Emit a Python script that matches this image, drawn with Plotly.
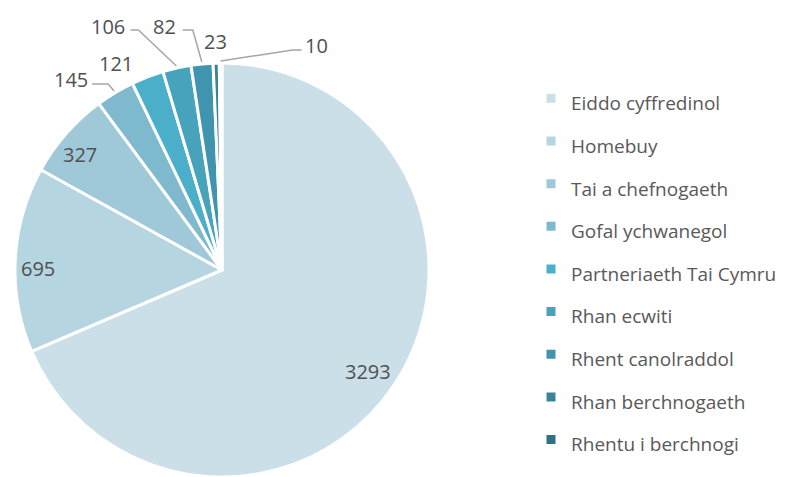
import math
import plotly.graph_objects as go

categories = ["Eiddo cyffredinol", "Homebuy", "Tai a chefnogaeth", "Gofal ychwanegol",
              "Partneriaeth Tai Cymru", "Rhan ecwiti", "Rhent canolraddol",
              "Rhan berchnogaeth", "Rhentu i berchnogi"]
values = [3293, 695, 327, 145, 121, 106, 82, 23, 10]
colors = ["#CADFE8", "#B5D5E1", "#9FC9D8", "#7EB9CD", "#4BAFC9",
          "#47A2BC", "#3F94AE", "#3A8499", "#2F7185"]

# ---- layout / style constants (screen pixels) ----
W, H = 787, 477
PAGE_MARGIN = 8  # default body margin of the html page
PIE_CX, PIE_CY, PIE_R = 222, 270, 207
# label placement style:
#   ("in", radius factor, pixel nudge, None)
#   ("out", None, label offset from slice edge, leader elbow offsets)
label_style = [
    ("in", 0.86, (-3, 3), None),
    ("in", 0.89, (0, 8), None),
    ("in", 0.87, (-7, 3), None),
    ("out", None, (-43, -11), [(-6, -7), (-22, -7)]),
    ("out", None, (-31, -12), []),
    ("out", None, (-68, -40), [(-38, -36), (-46, -36)]),
    ("out", None, (-37, -35), [(-9, -32), (-19, -32)]),
    ("out", None, (-1, -20), []),
    ("out", None, (96, -16), [(72, -11), (81, -11)]),
]

def px(x):
    return (x - PAGE_MARGIN) / W

def py(y):
    return 1 - (y - PAGE_MARGIN) / H

legend_labels = [f"<span style='font-size:19px'>{c}</span>" for c in categories]

fig = go.Figure(go.Pie(
    labels=legend_labels,
    values=values,
    sort=False,
    direction="clockwise",
    rotation=0,
    marker=dict(colors=colors, line=dict(color="white", width=3)),
    textinfo="none",
    domain=dict(x=[px(PIE_CX - PIE_R), px(PIE_CX + PIE_R)],
                y=[py(PIE_CY + PIE_R), py(PIE_CY - PIE_R)]),
    hoverinfo="label+value",
))

total = sum(values)
cum = 0
annotations = []
shapes = []
for v, (mode, rf, off, elbows) in zip(values, label_style):
    mid = (cum + v / 2) / total * 2 * math.pi
    cum += v
    sx, sy = math.sin(mid), -math.cos(mid)
    if mode == "in":
        lx = PIE_CX + rf * PIE_R * sx + off[0]
        ly = PIE_CY + rf * PIE_R * sy + off[1]
    else:
        ex, ey = PIE_CX + (PIE_R + 2) * sx, PIE_CY + (PIE_R + 2) * sy
        lx, ly = ex + off[0], ey + off[1]
        if elbows:
            pts = [(ex, ey)] + [(ex + dx, ey + dy) for dx, dy in elbows]
            path = "M " + " L ".join(f"{px(a):.5f},{py(b):.5f}" for a, b in pts)
            shapes.append(dict(type="path", xref="paper", yref="paper", path=path,
                               line=dict(color="#A6A6A6", width=1.5)))
    annotations.append(dict(x=px(lx), y=py(ly), xref="paper", yref="paper",
                            text=str(v), showarrow=False,
                            xanchor="center", yanchor="middle",
                            font=dict(size=20, color="#505050", family="Open Sans")))

fig.update_layout(
    width=W, height=H,
    margin=dict(l=0, r=0, t=0, b=0),
    paper_bgcolor="white",
    plot_bgcolor="white",
    font=dict(family="Open Sans", color="#595959"),
    annotations=annotations,
    shapes=shapes,
    legend=dict(
        x=px(531), y=py(269), xanchor="left", yanchor="middle",
        font=dict(size=30.5, color="#595959", family="Open Sans"),
        itemclick=False,
    ),
)

fig.write_html("out.html")
